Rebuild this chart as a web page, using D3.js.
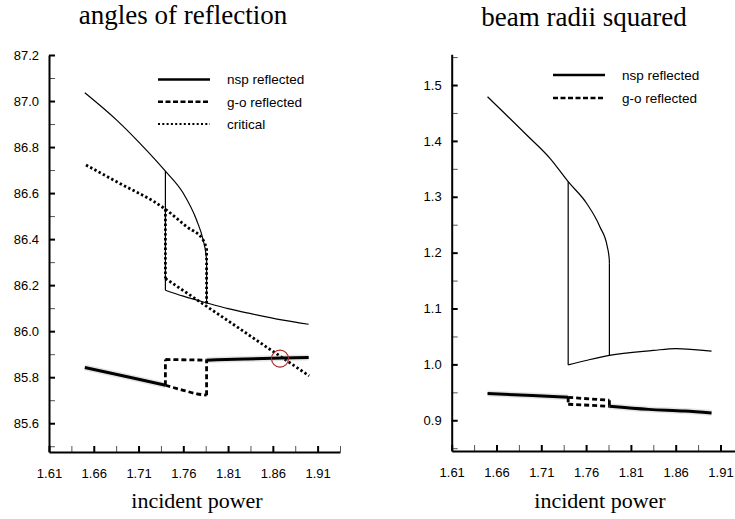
<!DOCTYPE html>
<html>
<head>
<meta charset="utf-8">
<script src="https://cdn.jsdelivr.net/npm/d3@7"></script>
<style>
  html, body { margin: 0; padding: 0; background: #fff; }
  svg { display: block; }
</style>
</head>
<body>
<svg id="chart" width="735" height="519"></svg>
<script>
// ---- data -------------------------------------------------------------
// Each response has a low-power branch (A, up to the upper turning point)
// and a high-power branch (B, from the lower turning point onward).
const jumpLow = 1.74;   // incident power where the down-sweep jumps
const jumpHigh = 1.786; // incident power where the up-sweep jumps

const powerTicks = [1.61, 1.66, 1.71, 1.76, 1.81, 1.86, 1.91];
const powerMinorTicks = [1.635, 1.685, 1.735, 1.785, 1.835, 1.885, 1.935];
const powerDomain = [1.61, 1.935];

// angles of reflection (degrees)
const angleTicks = [85.6, 85.8, 86.0, 86.2, 86.4, 86.6, 86.8, 87.0, 87.2];
const angleMinorTicks = [85.5, 85.7, 85.9, 86.1, 86.3, 86.5, 86.7, 86.9, 87.1];
const angleDomain = [85.475, 87.2];

const angleNspA = [[1.65, 87.036], [1.6856, 86.917], [1.7116, 86.816], [1.74, 86.695],
                   [1.76, 86.599], [1.7748, 86.483], [1.7822, 86.396], [1.7852, 86.338],
                   [1.786, 86.31]];
const angleNspB = [[1.74, 86.178], [1.76, 86.152], [1.786, 86.123], [1.81, 86.098],
                   [1.8343, 86.077], [1.8715, 86.048], [1.90, 86.030]];

const angleGoA = [[1.65, 85.842], [1.70, 85.800], [1.74, 85.765], [1.76, 85.743],
                  [1.775, 85.728], [1.786, 85.722]];
const angleGoB = [[1.74, 85.877], [1.786, 85.874], [1.83, 85.879], [1.87, 85.883],
                  [1.90, 85.886]];

const angleCritA = [[1.6513, 86.722], [1.6856, 86.649], [1.74, 86.530], [1.7637, 86.454],
                    [1.7822, 86.396], [1.786, 86.36]];
const angleCritB = [[1.74, 86.229], [1.786, 86.108], [1.8157, 86.030], [1.853, 85.931],
                    [1.869, 85.889], [1.9005, 85.806]];

// highlighted crossing of the critical angle with the g-o reflected angle
const angleMarker = [1.868, 85.881];

// beam radii squared
const radiusTicks = [0.9, 1.0, 1.1, 1.2, 1.3, 1.4, 1.5];
const radiusMinorTicks = [0.85, 0.95, 1.05, 1.15, 1.25, 1.35, 1.45, 1.55];
const radiusDomain = [0.845, 1.555];

const radiusNspA = [[1.65, 1.479], [1.6937, 1.4105], [1.7197, 1.3687], [1.74, 1.327],
                    [1.7607, 1.288], [1.7755, 1.246], [1.7837, 1.2104], [1.7859, 1.187],
                    [1.786, 1.18]];
const radiusNspB = [[1.74, 0.999], [1.76, 1.007], [1.786, 1.0163], [1.835, 1.025],
                    [1.86, 1.0284], [1.90, 1.0236]];

const radiusGoA = [[1.65, 0.9478], [1.70, 0.9445], [1.74, 0.9410], [1.786, 0.9358]];
const radiusGoB = [[1.74, 0.9287], [1.786, 0.9251], [1.83, 0.9195], [1.87, 0.9165],
                   [1.90, 0.9130]];

const legendAngles = ["nsp reflected", "g-o reflected", "critical"];
const legendRadii = ["nsp reflected", "g-o reflected"];

// ---- drawing ----------------------------------------------------------
const svg = d3.select("#chart");
const SERIF = "'Liberation Serif', 'Times New Roman', serif";
const SANS = "'Liberation Sans', Arial, sans-serif";

const styles = {
  nsp:  { width: 1.2, dash: null },
  go:   { width: 3.0, dash: null },
  goDash: { width: 2.8, dash: "5,3" },
  crit: { width: 2.8, dash: "2.4,2.4" }
};

function panel(opts) {
  const x = d3.scaleLinear().domain(powerDomain).range([opts.x0, opts.x1]);
  const y = d3.scaleLinear().domain(opts.yDomain).range([opts.yBottom, opts.yTop]);
  const g = svg.append("g");
  const smooth = d3.line().x(d => x(d[0])).y(d => y(d[1])).curve(d3.curveMonotoneX);
  const straight = d3.line().x(d => x(d[0])).y(d => y(d[1]));

  // axes: ticks point into the plot
  const yMinor = g.append("g").attr("transform", `translate(${opts.x0},0)`)
    .call(d3.axisLeft(y).tickValues(opts.yMinor).tickSize(-6).tickFormat(""));
  yMinor.select(".domain").remove();
  yMinor.selectAll("line").attr("stroke", "#555").attr("stroke-width", 1);

  const xMinor = g.append("g").attr("transform", `translate(0,${opts.yBottom})`)
    .call(d3.axisBottom(x).tickValues(powerMinorTicks).tickSize(-6).tickFormat(""));
  xMinor.select(".domain").remove();
  xMinor.selectAll("line").attr("stroke", "#555").attr("stroke-width", 1);

  const yAxis = g.append("g").attr("transform", `translate(${opts.x0},0)`)
    .call(d3.axisLeft(y).tickValues(opts.yTicks).tickSize(-6).tickSizeOuter(0)
      .tickPadding(10).tickFormat(d3.format(".1f")));
  const xAxis = g.append("g").attr("transform", `translate(0,${opts.yBottom})`)
    .call(d3.axisBottom(x).tickValues(powerTicks).tickSize(-6).tickSizeOuter(0)
      .tickPadding(17).tickFormat(d3.format(".2f")));
  [yAxis, xAxis].forEach(a => {
    a.select(".domain").attr("stroke", "#000").attr("stroke-width", 2);
    a.selectAll("line").attr("stroke", "#000").attr("stroke-width", 2);
    a.selectAll("text").attr("font-family", SANS).attr("font-size", 13).attr("fill", "#000");
  });

  function draw(pts, st, extra, gen) {
    if (pts.length < 2) return;
    const p = g.append("path").attr("d", (gen || smooth)(pts))
      .attr("fill", "none").attr("stroke", "#000")
      .attr("stroke-width", st.width).attr("stroke-linejoin", "round");
    if (st.dash) p.attr("stroke-dasharray", st.dash);
    if (extra) extra(p);
  }
  function at(branch, px) { return branch.find(d => d[0] === px); }
  function jump(A, B, px, st) { draw([at(A, px), at(B, px)], st, null, straight); }

  // plain series: both branches and the two jumps in one style
  function series(A, B, st) {
    draw(A, st);
    draw(B, st);
    jump(A, B, jumpLow, st);
    jump(A, B, jumpHigh, st);
  }
  // g-o series: solid where both sweeps coincide, dashed in the bistable range
  function goSeries(A, B) {
    const stableA = A.filter(d => d[0] <= jumpLow);
    const stableB = B.filter(d => d[0] >= jumpHigh);
    [stableA, stableB].forEach(s => draw(s, { width: 6, dash: null },
      p => p.attr("stroke", "#999").attr("stroke-opacity", 0.25)));
    draw(A.filter(d => d[0] >= jumpLow), styles.goDash);
    draw(B.filter(d => d[0] <= jumpHigh), styles.goDash);
    jump(A, B, jumpLow, styles.goDash);
    jump(A, B, jumpHigh, styles.goDash);
    draw(stableA, styles.go);
    draw(stableB, styles.go);
  }

  opts.series.forEach(s => {
    if (s.kind === "go") goSeries(s.A, s.B);
    else series(s.A, s.B, styles[s.kind]);
  });

  // legend
  opts.legend.forEach((label, i) => {
    const ly = opts.legendY + i * opts.legendStep;
    const st = [{ width: 2.6, dash: null }, { width: 2.6, dash: "5,2.5" }, { width: 2, dash: "2,2.3" }][i];
    const l = g.append("line").attr("x1", opts.legendX).attr("x2", opts.legendX + 52)
      .attr("y1", ly).attr("y2", ly).attr("stroke", "#000").attr("stroke-width", st.width);
    if (st.dash) l.attr("stroke-dasharray", st.dash);
    g.append("text").attr("x", opts.legendX + 69).attr("y", ly).attr("dy", "0.35em")
      .attr("font-family", SANS).attr("font-size", 13.5).text(label);
  });

  // titles
  g.append("text").attr("x", opts.titleX).attr("y", opts.titleY).attr("text-anchor", "middle")
    .attr("font-family", SERIF).attr("font-size", 27).text(opts.title);
  g.append("text").attr("x", opts.xLabelX).attr("y", 508).attr("text-anchor", "middle")
    .attr("font-family", SERIF).attr("font-size", 22).text("incident power");

  return { x, y, g };
}

const left = panel({
  x0: 49, x1: 340, yTop: 55, yBottom: 452,
  yDomain: angleDomain, yTicks: angleTicks, yMinor: angleMinorTicks,
  series: [
    { kind: "nsp", A: angleNspA, B: angleNspB },
    { kind: "crit", A: angleCritA, B: angleCritB },
    { kind: "go", A: angleGoA, B: angleGoB }
  ],
  legend: legendAngles, legendX: 158, legendY: 79.5, legendStep: 22.3,
  title: "angles of reflection", titleX: 183, titleY: 24, xLabelX: 197
});

left.g.append("circle")
  .attr("cx", left.x(angleMarker[0])).attr("cy", left.y(angleMarker[1])).attr("r", 8.5)
  .attr("fill", "none").attr("stroke", "#b02828").attr("stroke-width", 1.2);

panel({
  x0: 451.7, x1: 742.9, yTop: 54.3, yBottom: 451,
  yDomain: radiusDomain, yTicks: radiusTicks, yMinor: radiusMinorTicks,
  series: [
    { kind: "nsp", A: radiusNspA, B: radiusNspB },
    { kind: "go", A: radiusGoA, B: radiusGoB }
  ],
  legend: legendRadii, legendX: 553, legendY: 75, legendStep: 23,
  title: "beam radii squared", titleX: 584, titleY: 26, xLabelX: 600
});
</script>
</body>
</html>
